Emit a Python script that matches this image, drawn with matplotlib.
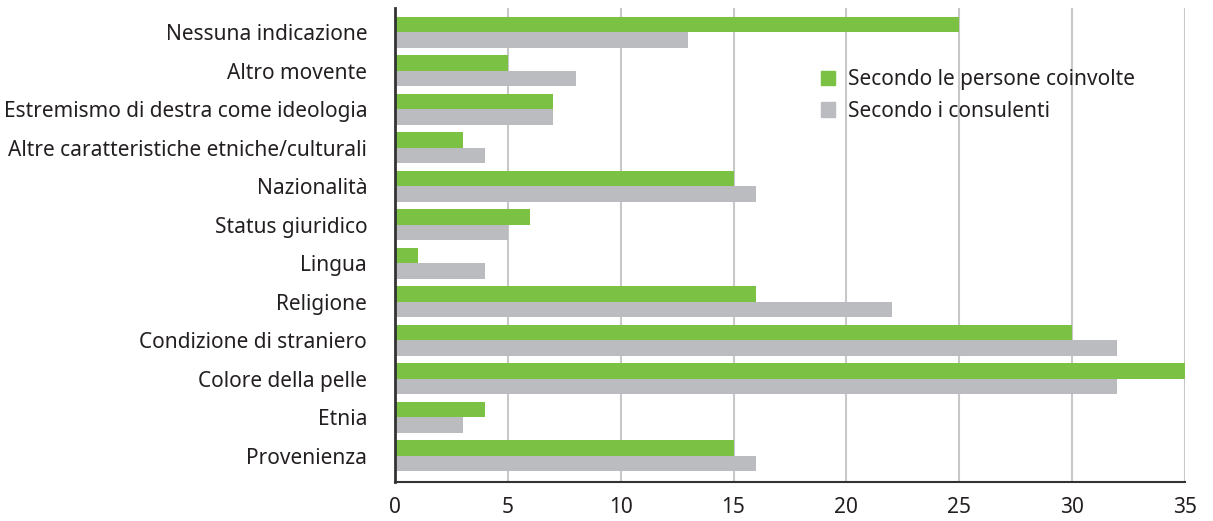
import numpy as np
import matplotlib
matplotlib.use("Agg")
import matplotlib.pyplot as plt
from matplotlib.patches import Patch

categories = [
    "Nessuna indicazione",
    "Altro movente",
    "Estremismo di destra come ideologia",
    "Altre caratteristiche etniche/culturali",
    "Nazionalità",
    "Status giuridico",
    "Lingua",
    "Religione",
    "Condizione di straniero",
    "Colore della pelle",
    "Etnia",
    "Provenienza",
]
persone_coinvolte = [25, 5, 7, 3, 15, 6, 1, 16, 30, 35, 4, 15]
consulenti = [13, 8, 7, 4, 16, 5, 4, 22, 32, 32, 3, 16]
x_ticks = [0, 5, 10, 15, 20, 25, 30, 35]

green = "#7bc143"
grey = "#bbbcbf"
ink = "#231f20"

plt.rcParams["font.family"] = ["Noto Sans", "DejaVu Sans"]

fig = plt.figure(figsize=(12.13, 5.21), dpi=100)
ax = fig.add_axes([0.3256, 0.0749, 0.6513, 0.9097])

n = len(categories)
y = np.arange(n)[::-1]
h = 0.4
ax.barh(y + h / 2, persone_coinvolte, height=h, color=green, zorder=2,
        label="Secondo le persone coinvolte")
ax.barh(y - h / 2, consulenti, height=h, color=grey, zorder=2,
        label="Secondo i consulenti")

ax.set_xlim(0, 35)
ax.set_ylim(-0.685, n - 1 + 0.63)
ax.set_xticks(x_ticks)
ax.set_xticklabels([str(t) for t in x_ticks], fontsize=15, color=ink)
ax.set_yticks(y)
ax.set_yticklabels(categories, fontsize=15, color=ink)
ax.tick_params(axis="both", length=0)
ax.tick_params(axis="y", pad=20)
ax.tick_params(axis="x", pad=11)

ax.grid(axis="x", color="#c8c8c8", linewidth=1.5, zorder=0)
for side in ("top", "right"):
    ax.spines[side].set_visible(False)
ax.spines["left"].set_color("#333333")
ax.spines["left"].set_linewidth(2)
ax.spines["bottom"].set_color("#333333")
ax.spines["bottom"].set_linewidth(1.5)

handles = [Patch(color=green), Patch(color=grey)]
ax.legend(handles, ["Secondo le persone coinvolte", "Secondo i consulenti"],
          loc="upper left", bbox_to_anchor=(0.515, 0.91), frameon=False,
          fontsize=15, handlelength=0.7, handleheight=0.7, handletextpad=0.6,
          labelspacing=0.5, labelcolor=ink)

fig.savefig("out.png", dpi=100, facecolor="white")
